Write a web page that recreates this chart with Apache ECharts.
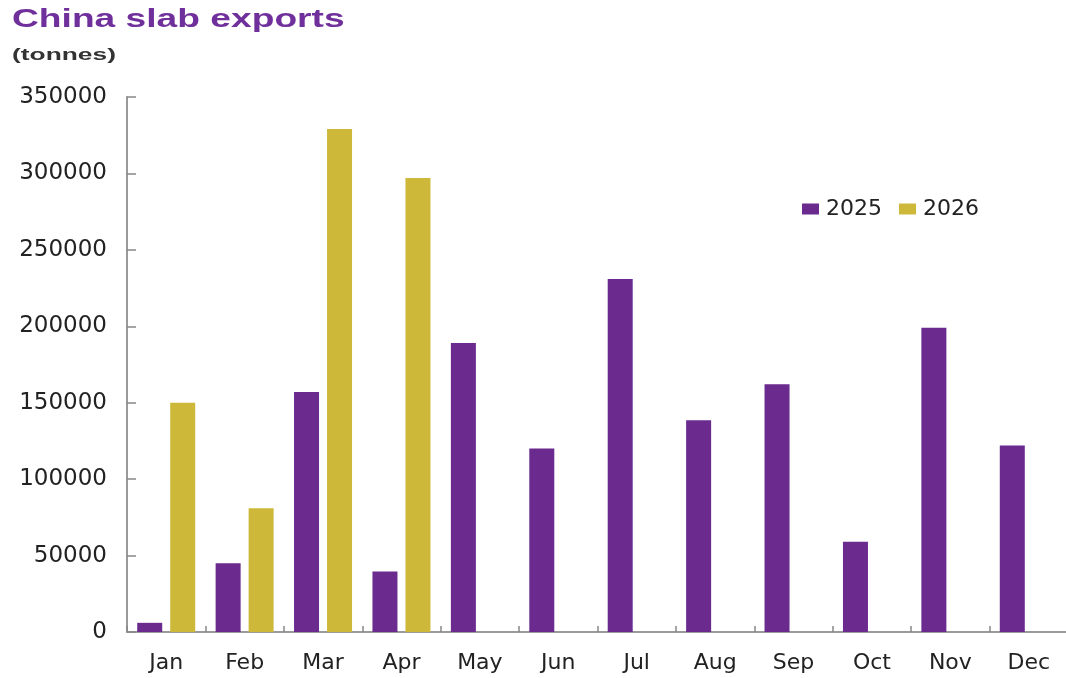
<!DOCTYPE html>
<html>
<head>
<meta charset="utf-8">
<title>China slab exports</title>
<script src="https://cdn.jsdelivr.net/npm/echarts@6/dist/echarts.min.js"></script>
<style>
  html, body { margin: 0; padding: 0; background: #ffffff; }
  #chart { width: 1066px; height: 678px; }
</style>
</head>
<body>
<div id="chart"></div>
<script>
// Monthly slab exports from China, tonnes
const months = ['Jan', 'Feb', 'Mar', 'Apr', 'May', 'Jun', 'Jul', 'Aug', 'Sep', 'Oct', 'Nov', 'Dec'];
const exports2025 = [6000, 45000, 157000, 39500, 189000, 120000, 231000, 138500, 162000, 59000, 199000, 122000];
const exports2026 = [150000, 81000, 329000, 297000, null, null, null, null, null, null, null, null];
const seriesNames = ['2025', '2026'];
const yTicks = { min: 0, max: 350000, interval: 50000 };

const PURPLE = '#6b2a8e';
const GOLD = '#cdb83a';
const AXIS_GREY = '#9a9a9a';
const LABEL_FONT = '"DejaVu Sans", "Liberation Sans", Arial, sans-serif';

const chart = echarts.init(document.getElementById('chart'), null, { renderer: 'canvas' });

chart.setOption({
  animation: false,
  backgroundColor: '#ffffff',
  graphic: [
    {
      type: 'text',
      x: 12, y: 7,
      scaleX: 1.43,
      style: {
        text: 'China slab exports',
        font: 'bold 26px "Liberation Sans", Arial, sans-serif',
        fill: '#70309c',
        textVerticalAlign: 'top'
      }
    },
    {
      type: 'text',
      x: 12, y: 47,
      scaleX: 1.55,
      style: {
        text: '(tonnes)',
        font: 'bold 17px "Liberation Sans", Arial, sans-serif',
        fill: '#333333',
        textVerticalAlign: 'top'
      }
    }
  ],
  legend: {
    data: seriesNames,
    left: 797,
    top: 193,
    icon: 'rect',
    itemWidth: 17,
    itemHeight: 11,
    itemGap: 17,
    textStyle: { fontFamily: LABEL_FONT, fontSize: 22, color: '#222222', padding: [0, 0, 0, 2] }
  },
  grid: {
    left: 127,
    top: 97,
    width: 941,
    bottom: 46,
    containLabel: false,
    outerBoundsMode: 'none'
  },
  xAxis: {
    type: 'category',
    data: months,
    boundaryGap: true,
    axisLine: { show: true, lineStyle: { color: AXIS_GREY, width: 2 } },
    axisTick: { show: true, inside: true, length: 6, alignWithLabel: false, lineStyle: { color: '#888888', width: 1.5 } },
    axisLabel: { margin: 20, fontFamily: LABEL_FONT, fontSize: 22, color: '#222222', interval: 0 },
    splitLine: { show: false }
  },
  yAxis: {
    type: 'value',
    min: yTicks.min,
    max: yTicks.max,
    interval: yTicks.interval,
    axisLine: { show: true, lineStyle: { color: AXIS_GREY, width: 2 } },
    axisTick: { show: true, inside: true, length: 9, lineStyle: { color: '#888888', width: 1.5 } },
    axisLabel: {
      margin: 20,
      fontFamily: LABEL_FONT,
      fontSize: 23,
      color: '#222222',
      formatter: (v) => String(v)
    },
    splitLine: { show: false }
  },
  series: [
    {
      name: seriesNames[0],
      type: 'bar',
      data: exports2025,
      barWidth: 25,
      barGap: '32%',
      itemStyle: { color: PURPLE }
    },
    {
      name: seriesNames[1],
      type: 'bar',
      data: exports2026,
      barWidth: 25,
      itemStyle: { color: GOLD }
    }
  ]
});
</script>
</body>
</html>
